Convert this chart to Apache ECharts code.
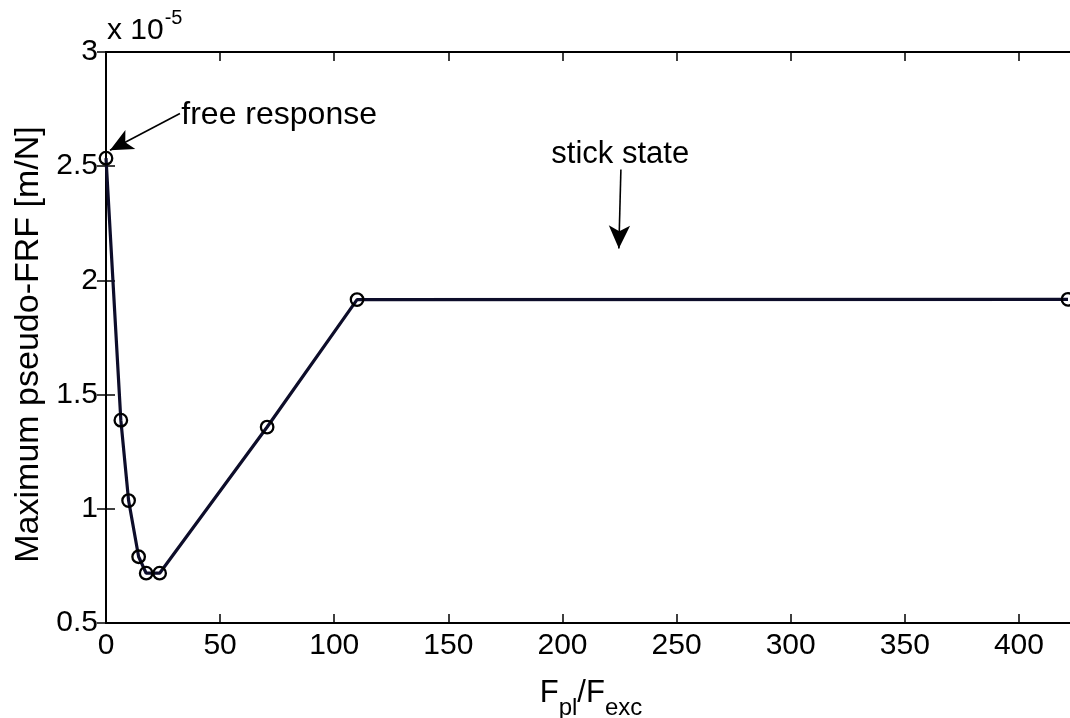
<!DOCTYPE html>
<html>
<head>
<meta charset="utf-8">
<script src="https://cdn.jsdelivr.net/npm/echarts@6/dist/echarts.min.js"></script>
<style>html,body{margin:0;padding:0;background:#fff;overflow:hidden;}#c{width:1070px;height:718px;}</style>
</head>
<body>
<div id="c"></div>
<script>
// Data (y values in units of 1e-5 m/N)
var forceRatio = [0, 6.5, 9.9, 14.3, 17.6, 23.5, 70.6, 110, 421.5];
var maxFRF     = [2.535, 1.388, 1.036, 0.790, 0.718, 0.718, 1.358, 1.916, 1.917];
var xTicks = [0, 50, 100, 150, 200, 250, 300, 350, 400];
var yTicks = [0.5, 1, 1.5, 2, 2.5, 3];
var annotFree  = {text: 'free response', textAt: [33, 2.725], from: [32.4, 2.731], to: [1.75, 2.570]};
var annotStick = {text: 'stick state', textAt: [225.3, 2.553], from: [225.6, 2.486], to: [224.7, 2.140]};

var FONT = 'Liberation Sans, Arial, Helvetica, sans-serif';
var FS = 30;
var chart = echarts.init(document.getElementById('c'), null, {renderer: 'canvas'});
var pts = forceRatio.map(function (x, i) { return [x, maxFRF[i]]; });

var axisCommon = {
  type: 'value',
  axisLine: {show: true, lineStyle: {color: '#000', width: 2}},
  axisTick: {show: true, inside: true, length: 9, lineStyle: {color: '#000', width: 1.5}},
  splitLine: {show: false}
};
var option = {
  animation: false,
  backgroundColor: '#fff',
  grid: {left: 106, top: 52, bottom: 95, width: 970, containLabel: false, outerBoundsMode: 'none'},
  xAxis: [
    Object.assign({}, axisCommon, {
      min: 0, max: 425, interval: 50, position: 'bottom',
      axisLabel: {show: true, color: '#000', fontFamily: FONT, fontSize: FS, margin: 8,
        formatter: function (v) { return xTicks.indexOf(v) >= 0 ? String(v) : ''; }},
      name: '{n|F}{s|pl}{n|/F}{s|exc}',
      nameLocation: 'middle', nameGap: 48,
      nameTextStyle: {rich: {
        n: {fontFamily: FONT, fontSize: 31, color: '#000', verticalAlign: 'bottom', lineHeight: 38},
        s: {fontFamily: FONT, fontSize: 24, color: '#000', verticalAlign: 'bottom', padding: [0, 0, -11, 0], lineHeight: 38}
      }}
    }),
    Object.assign({}, axisCommon, {
      min: 0, max: 425, interval: 50, position: 'top',
      axisLabel: {show: false}
    })
  ],
  yAxis: [
    Object.assign({}, axisCommon, {
      min: 0.5, max: 3, interval: 0.5, position: 'left',
      axisLabel: {show: true, color: '#000', fontFamily: FONT, fontSize: FS, margin: 8,
        formatter: function (v) { return yTicks.indexOf(v) >= 0 ? String(v) : ''; }},
      name: 'Maximum pseudo-FRF [m/N]',
      nameLocation: 'middle', nameGap: 60, nameRotate: 90,
      nameTextStyle: {fontFamily: FONT, fontSize: 34, color: '#000', padding: [0, 14, 0, 0]}
    }),
    Object.assign({}, axisCommon, {
      min: 0.5, max: 3, interval: 0.5, position: 'right',
      axisLabel: {show: false}
    })
  ],
  series: [{
    type: 'line',
    data: pts,
    xAxisIndex: 0, yAxisIndex: 0,
    symbol: 'circle', symbolSize: 12.5, showAllSymbol: true,
    itemStyle: {color: 'rgba(0,0,0,0)', borderColor: '#000', borderWidth: 2.3},
    lineStyle: {color: '#0d0d2a', width: 3.2},
    markLine: {
      silent: true, animation: false,
      symbol: ['none', 'arrow'], symbolSize: [16, 23],
      lineStyle: {color: '#000', width: 1.6, type: 'solid'},
      label: {show: false},
      data: [
        [{coord: annotFree.from}, {coord: annotFree.to}],
        [{coord: annotStick.from}, {coord: annotStick.to}]
      ]
    }
  }]
};
chart.setOption(option);

var pf = chart.convertToPixel({gridIndex: 0}, annotFree.textAt);
var ps = chart.convertToPixel({gridIndex: 0}, annotStick.textAt);
var gp = chart.convertToPixel({gridIndex: 0}, [0, 3]);
chart.setOption({
  graphic: [
    {type: 'text', x: pf[0], y: pf[1], silent: true,
     style: {text: annotFree.text, font: '32px ' + FONT, fill: '#000', align: 'left', verticalAlign: 'middle'}},
    {type: 'text', x: ps[0], y: ps[1], silent: true,
     style: {text: annotStick.text, font: '31px ' + FONT, fill: '#000', align: 'center', verticalAlign: 'middle'}},
    {type: 'text', x: gp[0] + 1, y: gp[1] - 6, silent: true,
     style: {text: '{a|x 10}{b|-5}', verticalAlign: 'bottom',
       rich: {a: {font: FS + 'px ' + FONT, fill: '#000', verticalAlign: 'bottom'},
              b: {font: '20px ' + FONT, fill: '#000', verticalAlign: 'bottom', padding: [0, 0, 18, 1]}}}}
  ]
});
</script>
</body>
</html>
